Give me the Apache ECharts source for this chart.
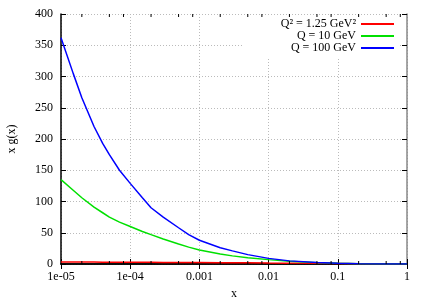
<!DOCTYPE html>
<html>
<head>
<meta charset="utf-8">
<script src="https://cdn.jsdelivr.net/npm/echarts@6/dist/echarts.min.js"></script>
<style>html,body{margin:0;padding:0;background:#fff}#c{width:428px;height:300px}</style>
</head>
<body>
<div id="c"></div>
<script>
var xs = [1e-5, 1.5e-5, 2e-5, 3e-5, 4e-5, 5e-5, 7e-5, 1e-4, 1.5e-4, 2e-4, 3e-4, 5e-4, 7e-4, 1e-3, 2e-3, 3e-3, 5e-3, 1e-2, 2e-2, 5e-2, 0.1, 0.2, 0.5, 1];
var gLow = [3.2, 3.15, 3.1, 3.05, 3.0, 3.0, 2.9, 2.8, 2.75, 2.7, 2.6, 2.5, 2.4, 2.3, 2.1, 2.0, 1.9, 1.6, 1.4, 1.1, 0.8, 0.5, 0.15, 0];
var gQ10 = [135, 118, 106, 91, 82, 75, 67, 60, 52, 47, 40, 32, 27, 22.5, 16, 13, 10, 7, 4.5, 2.2, 1.2, 0.5, 0.1, 0];
var gQ100 = [362, 305, 266, 220, 193, 175, 150, 129, 106, 90, 75, 58, 47, 38, 26, 21, 15, 9, 5, 2.3, 1.1, 0.5, 0.1, 0];
var seriesNames = ['Q\u00b2 = 1.25 GeV\u00b2', 'Q = 10 GeV', 'Q = 100 GeV'];
var seriesColors = ['#ff0000', '#00e000', '#0000ff'];
var xTickLabels = {'0.00001': '1e-05', '0.0001': '1e-04', '0.001': '0.001', '0.01': '0.01', '0.1': '0.1', '1': '1'};
var minorX = [2e-5, 5e-5, 8e-5, 2e-4, 5e-4, 8e-4, 2e-3, 5e-3, 8e-3, 2e-2, 5e-2, 8e-2, 0.2, 0.5, 0.8];

function pairs(v) { return xs.map(function (x, i) { return [x, v[i]]; }); }
var font = 'Liberation Serif';
var chart = echarts.init(document.getElementById('c'));
function xLabel(v) {
  var k = String(+v.toPrecision(6));
  if (k === '1e-5') return '1e-05';
  return xTickLabels[k] || k;
}
var axisLine = {show: true, lineStyle: {color: '#000', width: 1.5}};
chart.setOption({
  animation: false,
  grid: {left: 61, right: 21, top: 14, bottom: 36, outerBoundsMode: 'none', containLabel: false},
  legend: {
    orient: 'vertical', right: 28, top: 15, align: 'right',
    itemWidth: 33, itemHeight: 10, itemGap: 0,
    padding: [3, 6, 3, 37],
    backgroundColor: '#fff',
    icon: 'path://M0,4L33,4L33,6L0,6Z',
    textStyle: {fontFamily: font, fontSize: 12, color: '#000', lineHeight: 12},
    data: seriesNames.map(function (n, i) { return {name: n, itemStyle: {color: seriesColors[i]}}; })
  },
  xAxis: [{
    type: 'log', logBase: 10, min: 1e-5, max: 1,
    name: 'x', nameLocation: 'middle', nameGap: 24,
    nameTextStyle: {fontFamily: font, fontSize: 12, color: '#000'},
    axisLine: axisLine,
    axisTick: {show: true, inside: true, length: 5, lineStyle: {color: '#000'}},
    axisLabel: {fontFamily: font, fontSize: 12, color: '#000', margin: 7, formatter: xLabel},
    splitLine: {show: true, lineStyle: {color: '#bbb', type: [1, 2], width: 1}}
  }, {
    type: 'log', logBase: 10, min: 1e-5, max: 1, position: 'top',
    axisLine: axisLine,
    axisTick: {show: true, inside: true, length: 5, lineStyle: {color: '#000'}},
    axisLabel: {show: false}, splitLine: {show: false}
  }],
  yAxis: [{
    type: 'value', min: 0, max: 400, interval: 50,
    name: 'x g(x)', nameLocation: 'middle', nameGap: 43,
    nameTextStyle: {fontFamily: font, fontSize: 12, color: '#000'},
    axisLine: axisLine,
    axisTick: {show: true, inside: true, length: 5, lineStyle: {color: '#000'}},
    axisLabel: {fontFamily: font, fontSize: 12, color: '#000', margin: 8},
    splitLine: {show: true, lineStyle: {color: '#bbb', type: [1, 2], width: 1}}
  }, {
    type: 'value', min: 0, max: 400, interval: 50, position: 'right',
    axisLine: {show: true, lineStyle: {color: '#888', width: 1.5}},
    axisTick: {show: true, inside: true, length: 5, lineStyle: {color: '#000'}},
    axisLabel: {show: false}, splitLine: {show: false}
  }],
  series: [
    {
      type: 'custom', silent: true, z: 5,
      data: minorX.map(function (x) { return [x, 0]; }),
      renderItem: function (params, api) {
        var p = api.coord([api.value(0), 0]);
        var q = api.coord([api.value(0), 400]);
        return {type: 'group', children: [
          {type: 'line', shape: {x1: p[0], y1: p[1], x2: p[0], y2: p[1] - 3}, style: {stroke: '#000', lineWidth: 1}},
          {type: 'line', shape: {x1: q[0], y1: q[1], x2: q[0], y2: q[1] + 3}, style: {stroke: '#000', lineWidth: 1}}
        ]};
      }
    }
  ].concat(seriesNames.map(function (n, i) {
    return {
      name: n, type: 'line', data: pairs([gLow, gQ10, gQ100][i]),
      showSymbol: false, symbol: 'none', smooth: false,
      lineStyle: {color: seriesColors[i], width: 1.5},
      itemStyle: {color: seriesColors[i]}, z: 3
    };
  }))
});
</script>
</body>
</html>
